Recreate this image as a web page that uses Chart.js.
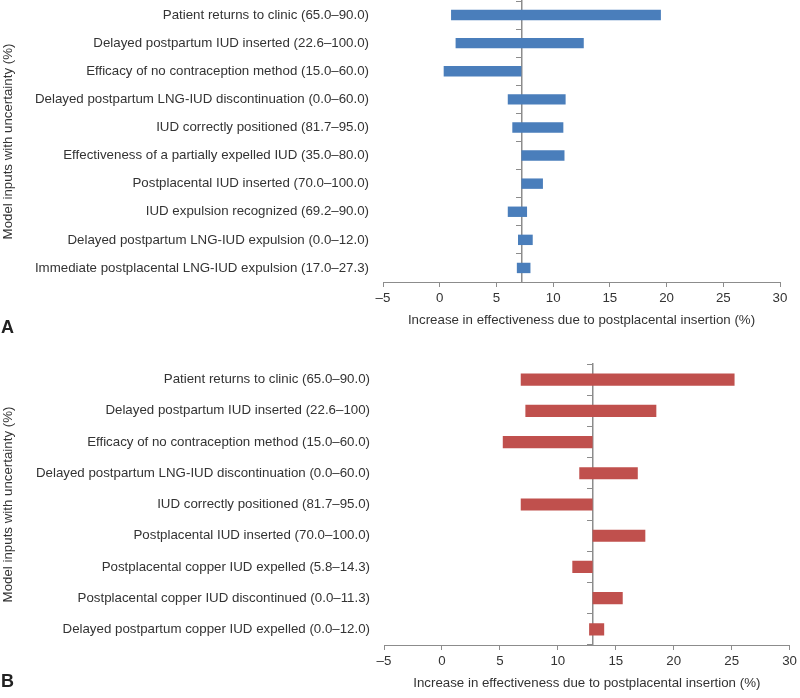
<!DOCTYPE html>
<html><head><meta charset="utf-8">
<script src="https://cdn.jsdelivr.net/npm/chart.js@4"></script>
<style>
body{margin:0;background:#fff;}
#wrap{position:relative;width:800px;height:698px;overflow:hidden;}
canvas{position:absolute;left:0;}
.tag{position:absolute;left:1px;font:bold 18px "Liberation Sans",Arial,sans-serif;line-height:18px;color:#222;}
</style></head><body>
<div id="wrap">
<canvas id="cA" width="800" height="340" style="top:0"></canvas>
<canvas id="cB" width="800" height="358" style="top:340px"></canvas>
<div class="tag" style="top:318px">A</div>
<div class="tag" style="top:672px">B</div>
</div>
<script>
const categoriesA = [
  "Patient returns to clinic (65.0–90.0)",
  "Delayed postpartum IUD inserted (22.6–100.0)",
  "Efficacy of no contraception method (15.0–60.0)",
  "Delayed postpartum LNG-IUD discontinuation (0.0–60.0)",
  "IUD correctly positioned (81.7–95.0)",
  "Effectiveness of a partially expelled IUD (35.0–80.0)",
  "Postplacental IUD inserted (70.0–100.0)",
  "IUD expulsion recognized (69.2–90.0)",
  "Delayed postpartum LNG-IUD expulsion (0.0–12.0)",
  "Immediate postplacental LNG-IUD expulsion (17.0–27.3)"
];
const lowA  = [1.0, 1.4, 0.35, 6.0, 6.4, 7.2, 7.2, 6.0, 6.9, 6.8];
const highA = [19.5, 12.7, 7.2, 11.1, 10.9, 11.0, 9.1, 7.7, 8.2, 8.0];
const baseA = 7.2;

const categoriesB = [
  "Patient returns to clinic (65.0–90.0)",
  "Delayed postpartum IUD inserted (22.6–100)",
  "Efficacy of no contraception method (15.0–60.0)",
  "Delayed postpartum LNG-IUD discontinuation (0.0–60.0)",
  "IUD correctly positioned (81.7–95.0)",
  "Postplacental IUD inserted (70.0–100.0)",
  "Postplacental copper IUD expelled (5.8–14.3)",
  "Postplacental copper IUD discontinued (0.0–11.3)",
  "Delayed postpartum copper IUD expelled (0.0–12.0)"
];
const lowB  = [6.8, 7.2, 5.25, 11.85, 6.8, 13.0, 11.25, 13.0, 12.7];
const highB = [25.25, 18.5, 13.0, 16.9, 13.0, 17.55, 13.0, 15.6, 14.0];
const baseB = 13.0;

const xTicksMin = -5, xTicksMax = 30, xTickStep = 5;
const xTitle = "Increase in effectiveness due to postplacental insertion (%)";
const yTitle = "Model inputs with uncertainty (%)";

const FONT = {family: '"Liberation Sans", Arial, sans-serif', size: 13.3};
const TEXT = '#333333';
const AXIS = '#8c8c8c';

function makeChart(id, cats, low, high, base, color, geom) {
  const pairs = low.map((v, i) => [v, high[i]]);
  return new Chart(document.getElementById(id), {
    type: 'bar',
    data: {
      labels: cats,
      datasets: [{
        data: pairs,
        backgroundColor: color,
        borderWidth: 0,
        barPercentage: geom.barPct,
        categoryPercentage: 1,
        xAxisID: 'x',
        yAxisID: 'y'
      }]
    },
    options: {
      indexAxis: 'y',
      responsive: false,
      animation: false,
      layout: {padding: geom.padding},
      plugins: {legend: {display: false}, tooltip: {enabled: false}},
      scales: {
        x: {
          type: 'linear', position: 'bottom',
          min: xTicksMin, max: xTicksMax,
          ticks: {stepSize: xTickStep, color: TEXT, font: FONT, padding: 3,
                  callback: v => v < 0 ? '–' + Math.abs(v) : String(v)},
          grid: {display: true, drawOnChartArea: false, drawTicks: true, tickLength: 5, color: AXIS},
          border: {display: true, color: AXIS, width: 1},
          title: {display: true, text: xTitle, color: TEXT, font: FONT, padding: {top: 4, bottom: 0}},
          afterFit(s) { s.height = 46; }
        },
        y: {
          type: 'category', position: 'left', offset: true,
          grid: {display: false, drawTicks: false, tickLength: 0},
          border: {display: false},
          ticks: {color: TEXT, font: FONT, padding: 14, autoSkip: false},
          title: {display: true, text: yTitle, color: TEXT, font: FONT, padding: 0},
          afterFit(s) { s.width = geom.yWidth; s.paddingTop = 0; s.paddingBottom = 0; }
        },
        y2: {
          type: 'category', axis: 'y', position: {x: base}, offset: true,
          grid: {display: true, drawOnChartArea: false, offset: true, drawTicks: true, tickLength: 5, color: AXIS},
          border: {display: true, color: AXIS, width: 1.5},
          ticks: {display: false}
        }
      }
    }
  });
}

makeChart('cA', categoriesA, lowA, highA, baseA, '#4a7ebb',
  {padding: {top: 1, right: 20, bottom: 12, left: 0}, yWidth: 383, barPct: 0.37});
makeChart('cB', categoriesB, lowB, highB, baseB, '#c0504d',
  {padding: {top: 24, right: 7, bottom: 7, left: 0}, yWidth: 384, barPct: 0.39});
</script>
</body></html>
